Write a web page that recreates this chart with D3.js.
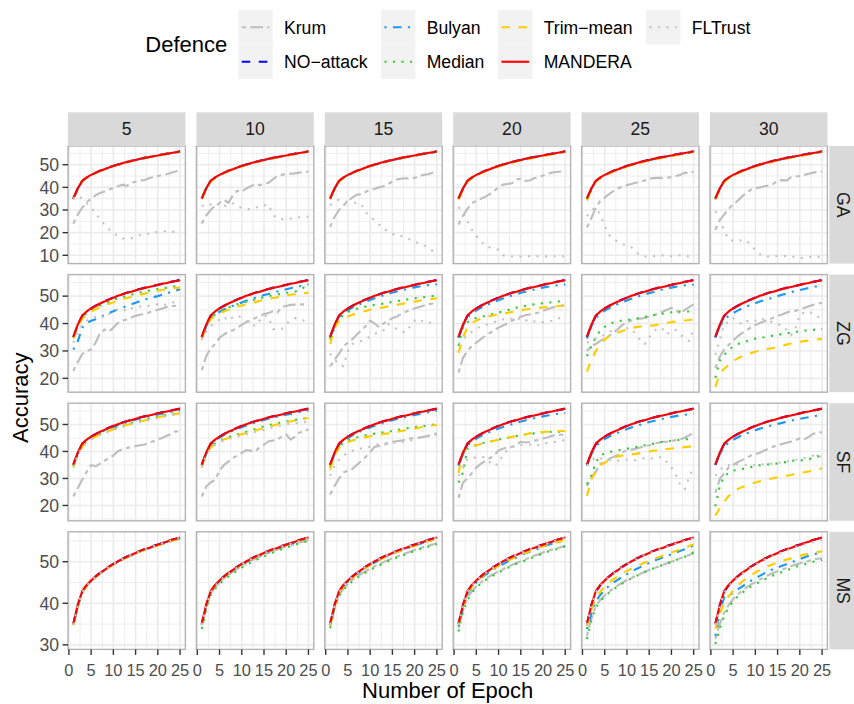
<!DOCTYPE html>
<html><head><meta charset="utf-8">
<script src="https://cdn.jsdelivr.net/npm/d3@7"></script>
<style>body{margin:0;background:#fff}text{font-family:"Liberation Sans",Arial,sans-serif}</style>
</head><body><svg id="c" width="854" height="704"></svg>
<script>
// ---------- categories ----------
const epochs = [1,2,3,4,5,6,7,8,9,10,11,12,13,14,15,16,17,18,19,20,21,22,23,24,25];
const attacks = ["GA","ZG","SF","MS"];
const attackerCounts = ["5","10","15","20","25","30"];
const defences = ["Krum","NO−attack","Bulyan","Median","Trim−mean","MANDERA","FLTrust"];
const xTicks = [0,5,10,15,20,25];
const yTicksByAttack = [[10,20,30,40,50],[20,30,40,50],[20,30,40,50],[30,40,50]];

// ---------- values (accuracy per epoch) ----------
const noAttack = [35.0,39.5,42.8,44.3,45.5,46.5,47.3,48.1,48.8,49.5,50.1,50.7,51.2,51.7,52.2,52.6,53.0,53.4,53.8,54.1,54.5,54.9,55.2,55.5,55.9];
const mandera  = [35.1,39.6,42.9,44.4,45.5,46.4,47.3,48.0,48.8,49.4,50.1,50.6,51.2,51.6,52.1,52.6,53.0,53.3,53.7,54.1,54.5,54.8,55.2,55.5,55.8];

const gaKrum = [
[24,28,31,33.5,35,36.5,37.5,38.2,39,39.8,40.5,41.2,40.6,42,42.5,43,43.2,44,44.5,45,45.5,45.8,46.5,47,47.5],
[24,27.5,30,32,33,34.5,33.2,36.5,38.5,38,39.5,40.5,41.5,41,41.5,42,43.5,45,45.5,46,46,46.2,46.5,46.8,47.0],
[22.5,27,30,32,34,35.5,36.8,37,38,39,39.3,40,40.5,41.5,42.5,43.5,43.8,44,43.8,44.2,45,45.5,45.8,46.5,47],
[23.6,27.5,30.5,33,34,35,35.8,37,38.5,40,41.2,41.5,41.8,43.5,43.8,42.8,43,44,44.5,45.2,46,46.5,46.8,47,46.8],
[22.3,26.5,31,34,35.5,37,38.4,39.5,40.5,41,41.5,42,42.5,43,43.8,44.1,44.2,44.2,44.3,44.5,45,45.5,46.5,46.2,47],
[21.3,25.5,28,30.5,32.5,34,36,37.5,39,39.5,40,40.5,40.8,41.5,43,43.2,43,44.4,44.8,45,45.5,46,46.5,46.8,47]];
const gaBulyan = [
[34.9,39.4,42.7,44.2,45.4,46.4,47.2,48.0,48.7,49.4,50.0,50.6,51.1,51.6,52.1,52.5,52.9,53.3,53.7,54.0,54.4,54.8,55.1,55.4,55.8],
[34.9,39.4,42.7,44.2,45.4,46.4,47.2,48.0,48.7,49.4,50.0,50.6,51.1,51.6,52.1,52.5,52.9,53.3,53.7,54.0,54.4,54.8,55.1,55.4,55.8],
[34.8,39.3,42.6,44.1,45.3,46.3,47.1,47.9,48.6,49.3,49.9,50.5,51.0,51.5,52.0,52.4,52.8,53.2,53.6,53.9,54.3,54.7,55.0,55.3,55.7],
[34.9,39.4,42.7,44.2,45.4,46.4,47.2,48.0,48.7,49.4,50.0,50.6,51.1,51.6,52.1,52.5,52.9,53.3,53.7,54.0,54.4,54.8,55.1,55.4,55.8],
[34.8,39.3,42.6,44.1,45.3,46.3,47.1,47.9,48.6,49.3,49.9,50.5,51.0,51.5,52.0,52.4,52.8,53.2,53.6,53.9,54.3,54.7,55.0,55.3,55.7],
[34.8,39.3,42.6,44.1,45.3,46.3,47.1,47.9,48.6,49.3,49.9,50.5,51.0,51.5,52.0,52.4,52.8,53.2,53.6,53.9,54.3,54.7,55.0,55.3,55.7]];
const gaMedian = [
[34.8,39.3,42.6,44.1,45.3,46.3,47.1,47.9,48.6,49.3,49.9,50.5,51.0,51.5,52.0,52.4,52.8,53.2,53.6,53.9,54.3,54.7,55.0,55.3,55.7],
[34.9,39.4,42.7,44.2,45.4,46.4,47.2,48.0,48.7,49.4,50.0,50.6,51.1,51.6,52.1,52.5,52.9,53.3,53.7,54.0,54.4,54.8,55.1,55.4,55.8],
[34.8,39.3,42.6,44.1,45.3,46.3,47.1,47.9,48.6,49.3,49.9,50.5,51.0,51.5,52.0,52.4,52.8,53.2,53.6,53.9,54.3,54.7,55.0,55.3,55.7],
[34.8,39.3,42.6,44.1,45.3,46.3,47.1,47.9,48.6,49.3,49.9,50.5,51.0,51.5,52.0,52.4,52.8,53.2,53.6,53.9,54.3,54.7,55.0,55.3,55.7],
[34.3,39.2,42.5,44.0,45.2,46.2,47.0,47.8,48.5,49.2,49.8,50.4,50.9,51.4,51.9,52.3,52.7,53.1,53.5,53.8,54.2,54.6,54.9,55.2,55.6],
[34.8,39.3,42.6,44.1,45.3,46.3,47.1,47.9,48.6,49.3,49.9,50.5,51.0,51.5,52.0,52.4,52.8,53.2,53.6,53.9,54.3,54.7,55.0,55.3,55.7]];
const gaTrim = [
[34.9,39.4,42.7,44.2,45.4,46.4,47.2,48.0,48.7,49.4,50.0,50.6,51.1,51.6,52.1,52.5,52.9,53.3,53.7,54.0,54.4,54.8,55.1,55.4,55.8],
[34.8,39.3,42.6,44.1,45.3,46.3,47.1,47.9,48.6,49.3,49.9,50.5,51.0,51.5,52.0,52.4,52.8,53.2,53.6,53.9,54.3,54.7,55.0,55.3,55.7],
[34.9,39.4,42.7,44.2,45.4,46.4,47.2,48.0,48.7,49.4,50.0,50.6,51.1,51.6,52.1,52.5,52.9,53.3,53.7,54.0,54.4,54.8,55.1,55.4,55.8],
[34.6,39.2,42.5,44.0,45.2,46.2,47.0,47.8,48.5,49.2,49.8,50.4,50.9,51.4,51.9,52.3,52.7,53.1,53.5,53.8,54.2,54.6,54.9,55.2,55.6],
[34.4,39.2,42.5,44.0,45.2,46.2,47.0,47.8,48.5,49.2,49.8,50.4,50.9,51.4,51.9,52.3,52.7,53.1,53.5,53.8,54.2,54.6,54.9,55.2,55.6],
[34.6,39.2,42.5,44.0,45.2,46.2,47.0,47.8,48.5,49.2,49.8,50.4,50.9,51.4,51.9,52.3,52.7,53.1,53.5,53.8,54.2,54.6,54.9,55.2,55.6]];
const gaFLTrust = [
[35,36.5,35,33,31,28.5,26,23.5,21.5,20,18.5,17.5,17.3,17.5,18.5,19,19.5,19.5,19.8,20.5,20.5,20.8,20.5,20.3,20.0],
[32,31.5,32.5,31.5,33,31.8,32,33,31.5,31,30.5,30.2,31,31.5,32,32.5,28,26.2,26,26,26.2,26.5,26.8,27,27],
[32.2,33.5,34.5,34,33.5,33.5,33,32.5,29,27,25.5,23.6,22,20.5,19.5,18.5,18.5,17.5,17,16,15.3,14.5,13.5,12,11],
[31.3,29,25,21.3,18.5,16.5,14,13.5,13,12.4,10,9.5,9.5,9.6,9.5,9.5,9.6,9.5,9.6,9.6,9.5,9.6,9.6,9.5,9.7],
[27.3,30,31,28,23,19,17,16,15,14,13.6,11.5,10,9.5,9.5,9.6,9.8,10,9.7,9.6,9.8,10,9.8,9.5,8.7],
[29.5,26,21,16.8,16.5,16.6,16.6,16.6,14.5,12.3,10.5,9.4,9.5,9.8,9.6,9.5,9.8,9.4,9.2,8.7,9.0,9.2,9.4,9.3,9.4]];

const zgKrum = [
[22.7,26,28.8,30,30.5,33,36.5,37.8,37,38.5,40.2,41,41.5,42.2,42.8,43.2,43.5,44,44.5,45,45.5,46,46.3,46.5,47],
[23,28,31,32.5,34.8,36,37,37.5,38.5,39.5,40.5,41,42,42.5,43.5,43.8,44.5,44,46,46.4,46.8,46.9,47,47,46.5],
[24.4,26.8,29,31.8,33,34.3,36,37.5,39,41.1,40,38.7,40,41,42,42.5,43.5,44.3,44.9,45.5,46,46.5,47,47.3,47.7],
[22.1,27.5,30,31.9,33,34.3,35.5,36.5,37.5,38.5,39.3,40,41,41.8,42.5,43,43.3,43.6,44,44.6,45.2,45.8,46.1,46.5,47],
[30,31.8,32.5,33.7,34.5,35.5,36.8,38,39.5,40.5,41.1,41.5,41.8,42,42.5,43,43.6,44.3,45,45.7,45,43.6,45,46,47],
[23.7,27.9,30.5,32.2,33.8,35.3,36.5,37.5,38.6,39.5,40.2,40.8,41.5,42.1,42.8,43.3,44,44.5,44.6,45.2,45.7,46.3,46.8,47.2,47.6]];
const zgBulyan = [
[30.5,33.5,38.5,40.2,41.0,41.6,42.3,43.0,43.8,44.5,45.2,45.8,46.4,47,47.6,48.2,48.7,49.2,49.6,50,50.5,51,51.5,52,52.5],
[34.5,39,42,43.3,44.3,45.1,45.8,46.5,47.1,47.7,48.3,48.9,49.4,49.9,50.4,50.8,51.3,51.7,52.1,52.5,52.9,53.3,53.6,54,54.3],
[34.8,39.3,42.4,43.8,44.9,45.8,46.6,47.3,48,48.6,49.2,49.8,50.3,50.8,51.3,51.7,52.1,52.5,52.9,53.2,53.5,53.8,54,54.2,54.3],
[34.8,39.2,42.3,43.7,44.8,45.7,46.5,47.2,47.9,48.5,49.1,49.7,50.2,50.7,51.2,51.6,52,52.4,52.8,53.1,53.4,53.7,53.9,54.1,54.2],
[34.6,39,42.1,43.6,44.7,45.6,46.4,47.1,47.8,48.4,49,49.6,50.1,50.6,51.1,51.5,52,52.4,52.8,53.1,53.4,53.7,53.9,54.1,54.2],
[34.9,39,41.5,42.8,43.8,44.7,45.5,46.2,46.8,47.4,48,48.5,49,49.5,50,50.5,50.9,51.4,51.8,52.2,52.6,53,53.3,53.7,54]];
const zgMedian = [
[35,39.5,42.3,43.8,45,45.8,46.6,47.3,48,48.6,49.2,49.6,50.1,50.5,51,51.3,51.7,52,52.3,52.6,52.9,53.1,53.4,53.6,53.8],
[34.8,39.2,42,43.3,44.3,45.1,45.8,46.4,47,47.5,48,48.4,48.8,49.2,49.6,50,50.3,50.6,50.9,51.2,51.5,51.7,52.2,53.2,52.5],
[34.1,38.5,41.5,43.3,44.2,44.9,45.4,45.8,46.2,46.5,46.8,47,47.3,47.6,47.9,48.2,48.4,48.7,49,49.2,49.4,49.6,49.8,50,50.2],
[31.8,38.7,40.5,41.5,42,42.4,42.8,43.2,43.6,44,44.4,44.8,45.5,45.8,46.1,46.4,46.7,47,47.2,47.4,47.6,47.8,48,48.1,48.2],
[28.1,31.8,35,37.5,38.8,39.9,40.4,40.8,41.2,41.4,41.5,41.8,42.1,42.4,42.8,43.1,43.4,43.6,43.9,44.1,44.3,44.4,44.4,44.4,44.5],
[20.2,26.4,28.5,30.5,31.5,32.5,33,33.5,34,34.5,34.8,35,35.3,35.6,35.8,36.2,36.5,36.6,36.9,37.2,37.4,37.5,37.7,37.9,38]];
const zgTrim = [
[34.5,39,41.8,43.2,44.3,45.2,46,46.6,47.2,47.8,48.3,48.8,49.3,49.7,50.1,50.5,50.9,51.3,51.6,52,52.3,52.5,52.8,53,53.1],
[34.5,38.8,41.5,42.8,43.7,44.4,45,45.6,46.1,46.6,47,47.4,47.8,48.2,48.6,49,49.3,49.6,49.9,50.2,50.5,50.7,50.9,51.1,51.2],
[32.5,38.5,40.8,41.8,42.6,43.2,43.7,44.2,44.6,45,45.3,45.6,45.9,46.2,46.5,46.8,47.1,47.4,47.7,48,48.3,48.6,48.8,49,49.2],
[29.3,34.9,38.5,40.2,41.1,41.8,42.3,42.7,43,43.3,43.6,43.9,44.2,44.5,44.8,45.1,45.3,45.5,45.7,45.9,46,46.2,46.3,46.4,46.5],
[22.5,26.8,30,32.5,34.2,35.4,36.2,36.8,37.3,37.8,38.3,38.7,38.9,39.1,39.2,39.3,39.6,39.9,40.2,40.5,40.7,40.9,41.1,41.3,41.5],
[16.9,21.8,23.5,24.9,26.2,27.3,28,28.7,29.2,29.7,30.1,30.5,30.8,31.1,31.5,31.9,32.3,32.7,33,33.3,33.6,33.8,34,34.2,34.4]];
const zgFLTrust = [
[33,37,39.5,41,42,42.5,43,42,43.5,44.5,45,45.5,44.5,45.5,46,46.2,46,46.5,46.8,47,46.5,47,47.5,48,47.5],
[34,37,39,40.5,41.5,42.5,41,42.3,43,42,41,40,39,41,43,42.5,38,37.8,38,40,41,42,41.5,41,39.5],
[29,27,25,24.4,30,32.5,33,33.6,34,35.5,36.2,36.8,37.5,39.9,39,38,37,36.7,39,41,41.8,40.5,40.6,40,39.7],
[32.5,34.5,35.5,37,38,39,39.3,40,40.5,41,41.5,41.5,41.8,42.5,41,41.3,40.5,40.8,40.5,40.5,40.8,41,41.8,42,42.6],
[33,34,34.5,35,36,37,37.6,38,38.5,38.3,38.2,36,34,32.5,35,37,38.5,38,36,37.5,37.6,36,34.5,33.6,38.2],
[28.6,34,39.9,40.5,42,41,39.7,41,40.5,41,42,41.5,41,40.5,40,39,37.8,35.7,38,43.3,44,44.5,43.5,42.5,42]];

const sfKrum = [
[23.3,26.5,29.5,32.5,35,34.5,35.5,36.5,37.6,38.5,40.1,40.8,41.3,41.6,42,42.3,42.6,43,43.8,44.5,45,45.8,46.5,47.5,47.3],
[23.3,27,28.5,29.5,33,35,36.2,37.6,38.5,39.5,40.5,40.3,40.1,41.5,42.5,43.8,44,44.4,45.5,46.3,44.4,45.5,47,47.5,48.2],
[24.1,27.2,30,32.2,33,33.5,35,36.5,38,39.8,41.7,42,42.3,43,43.6,43.8,44,44.4,44.8,45,45.2,45.4,45.8,46.3,46.7],
[22.8,28.5,30,32,34,35.4,36.5,37.5,38.5,40.4,41,41.5,41.7,42.5,43.6,43.3,43.5,44,44.2,44.8,45.2,45.8,46.1,46.2,46.3],
[27.2,30.4,32.5,35.4,36,37.3,38,38.8,39.8,40.3,40.7,41,41.5,42,42.3,42.8,43.2,43.6,43.6,43.9,44.2,44.5,45.1,46,47.1],
[24.7,29.8,32,34.1,35,36,36.8,37.5,38.5,39,39.5,40.4,41,41.8,42.3,42.8,43.2,43.6,44.2,44.8,44.5,45.4,46.5,47.3,47]];
const sfBulyan = [
[35,39.3,42.5,44,45.2,46.2,47,47.8,48.5,49.1,49.7,50.3,50.8,51.3,51.8,52.2,52.6,53,53.4,53.7,54,54.4,54.7,55,55.3],
[34.8,39.2,42.4,43.9,45.1,46.1,46.9,47.7,48.4,49,49.6,50.2,50.7,51.2,51.7,52.1,52.5,52.9,53.3,53.6,53.9,54.3,54.6,54.9,55.2],
[34.8,39.2,42.4,43.9,45,46,46.8,47.6,48.3,48.9,49.5,50.1,50.6,51.1,51.6,52,52.4,52.8,53.2,53.5,53.8,54.2,54.5,54.8,55.1],
[34.7,39,42.2,43.7,44.8,45.7,46.5,47.2,47.9,48.5,49.1,49.6,50.1,50.6,51.1,51.5,51.9,52.3,52.7,53,53.3,53.6,53.9,54.1,54.3],
[34.7,39,42,43.5,44.6,45.5,46.3,47,47.7,48.3,48.9,49.4,49.9,50.4,50.9,51.3,51.7,52.1,52.5,52.8,53.1,53.4,53.6,53.8,54],
[35,39,41.8,43.2,44.3,45.2,46,46.7,47.3,47.9,48.4,48.9,49.4,49.8,50.2,50.6,51,51.4,51.8,52.1,52.4,52.7,53,53.3,53.6]];
const sfMedian = [
[34.5,39.2,42,43.6,44.8,45.7,46.5,47.2,47.8,48.4,49,49.5,50,50.5,50.9,51.3,51.7,52.1,52.5,52.8,53.2,53.5,53.8,54.1,54.4],
[34.5,39,41.8,43,44,44.7,45.3,45.8,46.3,46.8,47.3,47.8,48.3,48.8,49.3,49.7,50.1,50.5,50.8,51.1,51.4,51.7,52,52.2,52.5],
[34.1,39,42,43.2,44,44.6,45.2,45.7,46,46.3,46.6,46.9,47.1,47.3,47.6,47.9,48.2,48.5,48.8,49,49.2,49.4,49.7,49.9,50.1],
[28.5,32.2,41,41.8,42.4,42.9,43.3,43.7,44.1,44.4,44.8,45.1,45.4,45.7,46,46.3,46.5,46.7,46.9,47.1,47.2,47.3,47.3,47.3,47.3],
[27.8,31,36,38.5,39.3,39.8,40.1,40.4,40.7,41,41.3,41.6,41.9,42.3,42.6,42.9,43.2,43.6,43.8,44,44.2,44.3,44.5,44.6,44.8],
[19.7,27.2,31,32,32.9,33.2,33.5,33.8,34.2,34.7,34.9,35.1,35.2,35.3,35.6,35.8,36.2,36.6,36.6,36.7,36.8,37.2,37.5,38.3,36.8]];
const sfTrim = [
[34.5,39,41.8,43.4,44.6,45.5,46.3,47,47.6,48.2,48.7,49.3,49.8,50.3,50.7,51.1,51.5,51.9,52.3,52.6,53,53.3,53.6,53.9,54.2],
[34.5,38.8,41.5,42.8,43.7,44.4,45,45.5,46,46.4,46.8,47.3,47.7,48.2,48.7,49.2,49.6,50,50.4,50.8,51.2,51.5,51.8,52.1,52.4],
[33.3,38.5,41.5,42.7,43.5,44.1,44.6,45,45.3,45.6,45.9,46.2,46.5,46.7,47,47.3,47.6,47.9,48.2,48.5,48.8,49.1,49.3,49.6,49.8],
[32,39.8,41.2,42,42.3,42.8,43.2,43.6,44,44.4,44.8,45.1,45.4,45.7,46,46.3,46.7,46.9,47.1,47.2,47.3,47.4,47.5,47.6,47.6],
[23.5,29.8,32.5,35,35.8,36.8,37.9,38.2,38.5,38.7,38.9,39.1,39.4,39.7,40,40.3,40.5,40.7,40.9,41.1,41.2,41.4,41.6,41.8,42],
[16.3,19,21.5,23.5,25,26,26.8,27.4,28,28.5,29,29.4,29.8,30.1,30.4,30.7,31,31.3,31.7,32,32.3,32.6,32.9,33.3,33.8]];
const sfFLTrust = [
[34,38.8,41.7,43.2,44.4,45.3,46.1,46.8,47.4,48,48.5,49.1,49.6,50.1,50.5,50.9,51.3,51.7,52.1,52.4,52.8,53.1,53.4,53.7,54],
[34,38.5,41,42.5,43.5,44,44.6,45,45.5,46,46.3,46.8,47.2,47.6,48,48.5,49,49.3,49.7,50,50.3,50.5,50.6,50.8,51],
[31,34.5,37,38.5,39.5,40.3,41,41.1,41.3,41.8,42.3,42.8,43,43.1,43.2,43.3,43.4,43.6,44,44.5,45,45.4,45.6,45.8,46],
[31,34,37.3,37.5,37.8,38,37.8,36,34.7,35.5,39.1,40.5,41.5,42.3,42.5,42.3,42.5,42.8,42.3,43,43.2,43.4,43.6,44,44.2],
[34.7,36.5,37.9,37.5,37,36.8,36.6,36.6,36.8,37,36.6,36.8,37.2,37.5,37.2,37.6,37.8,37.9,36,34,31.4,27.5,26,30.5,34.5],
[31,33,34.7,35,35.4,35.2,35,35,34.9,35,35.1,35.3,35.4,35.5,35.7,36,36.3,36.6,36.8,37.3,37.5,38,38.5,39.1,37.3]];

const msKrum = [
[34.8,39.3,42.6,44.1,45.3,46.3,47.1,47.9,48.6,49.3,49.9,50.5,51,51.5,52,52.4,52.8,53.2,53.6,53.9,54.2,54.6,54.9,55.2,55.5],
[34.7,39.1,42.3,43.8,45,46,46.8,47.6,48.3,49,49.6,50.2,50.7,51.2,51.7,52.1,52.5,52.9,53.3,53.6,53.9,54.3,54.6,54.9,55.2],
[34.5,39,42,43.5,44.7,45.6,46.4,47.1,47.7,48.3,48.9,49.4,49.9,50.4,50.8,51.2,51.6,52,52.4,52.8,53.2,53.5,53.8,54.1,54.5],
[34,38.5,41.3,42.9,44.1,45,45.8,46.5,47.1,47.7,48.2,48.7,49.2,49.7,50.1,50.5,51,51.4,51.8,52.2,52.6,52.9,53.2,53.5,53.8],
[32.2,36.3,39.3,40.8,41.9,42.8,43.6,44.3,45,45.6,46.1,46.6,47.1,47.6,48,48.4,48.8,49.2,49.6,50,50.4,50.8,51.2,51.6,52],
[31.4,35,37.8,39.6,41,42.1,43,43.8,44.5,45.1,45.7,46.3,46.8,47.3,47.7,48.1,48.5,48.9,49.3,49.6,49.9,50.2,50.5,50.7,50.8]];
const msBulyan = [
[34.9,39.4,42.7,44.2,45.4,46.4,47.2,48.0,48.7,49.4,50.0,50.6,51.1,51.6,52.1,52.5,52.9,53.3,53.7,54.0,54.4,54.8,55.1,55.4,55.8],
[34.8,39.3,42.6,44.1,45.3,46.3,47.1,47.9,48.6,49.3,49.9,50.5,51.0,51.5,52.0,52.4,52.8,53.2,53.6,53.9,54.3,54.7,55.0,55.3,55.7],
[34.7,39.2,42.5,44.0,45.2,46.2,47.0,47.8,48.5,49.2,49.8,50.4,50.9,51.4,51.9,52.3,52.7,53.1,53.5,53.8,54.2,54.6,54.9,55.2,55.5],
[34.5,39,42.3,43.8,45,46,46.8,47.5,48.2,48.8,49.4,50,50.5,51,51.5,52,52.4,52.8,53.2,53.6,54,54.3,54.6,54.9,55.2],
[33.8,37.5,40.5,42,43.2,44.2,45,45.7,46.4,47,47.6,48.2,48.7,49.2,49.7,50.2,50.6,51,51.4,51.8,52.2,52.6,53,53.4,53.9],
[32.2,38,41.5,42,42.5,43.3,44,44.7,45.4,46,46.6,47.2,47.7,48.2,48.6,49,49.4,49.8,50.2,50.6,51,51.4,51.7,52,52.4]];
const msMedian = [
[34.9,39.4,42.7,44.2,45.4,46.4,47.2,48.0,48.7,49.4,50.0,50.6,51.1,51.6,52.1,52.5,52.9,53.3,53.7,54.0,54.3,54.7,55.0,55.3,55.6],
[33.8,38.5,41.9,43.5,44.6,45.6,46.4,47.2,47.9,48.6,49.2,49.8,50.3,50.8,51.3,51.7,52.2,52.6,53,53.4,53.7,54.1,54.4,54.7,55],
[34,38.8,41.8,43.3,44.4,45.3,46.1,46.8,47.4,48,48.6,49.1,49.6,50.1,50.5,51,51.4,51.8,52.2,52.6,53,53.3,53.6,53.9,54.2],
[33.2,38,40.8,42.5,43.8,44.7,45.5,46.2,46.8,47.4,48,48.5,49,49.5,49.9,50.3,50.8,51.2,51.6,52,52.4,52.7,53,53.4,53.7],
[31.4,36,39,40.5,41.7,42.6,43.4,44.1,44.8,45.4,46,46.5,47,47.5,48,48.4,48.8,49.2,49.6,50,50.4,50.8,51.2,51.6,52.3],
[30.2,34,37,39,40.5,41.6,42.5,43.3,44,44.6,45.2,45.7,46.2,46.7,47.1,47.5,47.9,48.3,48.7,49.1,49.4,49.7,50,50.2,50.4]];
const msTrim = [
[34.8,39.3,42.6,44.1,45.3,46.3,47.1,47.9,48.6,49.3,49.9,50.5,51.0,51.5,52.0,52.4,52.8,53.2,53.6,53.9,54.3,54.7,55.0,55.3,55.7],
[34.9,39.4,42.7,44.2,45.4,46.4,47.2,48.0,48.7,49.4,50.0,50.6,51.1,51.6,52.1,52.5,52.9,53.3,53.7,54.0,54.4,54.8,55.1,55.4,55.8],
[34.6,39.2,42.5,44.0,45.2,46.2,47.0,47.8,48.5,49.2,49.8,50.4,50.9,51.4,51.9,52.3,52.7,53.1,53.5,53.8,54.2,54.6,54.9,55.2,55.6],
[34.8,39.2,42.5,44,45.2,46.2,47,47.7,48.4,49,49.6,50.2,50.7,51.2,51.7,52.1,52.5,52.9,53.3,53.7,54.1,54.4,54.7,55,55.3],
[34.5,38.5,41.3,42.8,44,45,45.8,46.5,47.2,47.8,48.3,48.8,49.3,49.8,50.2,50.6,51,51.4,51.8,52.2,52.6,53,53.4,53.8,54.2],
[33.8,37.5,40,41.7,43,44.2,45.2,46,46.7,47.4,48,48.5,49,49.4,49.8,50.2,50.5,50.8,51.1,51.4,51.7,51.9,52.1,52.3,52.5]];
const msFLTrust = [
[34.9,39.4,42.7,44.2,45.4,46.4,47.2,48.0,48.7,49.4,50.0,50.6,51.1,51.6,52.1,52.5,52.9,53.3,53.7,54.0,54.4,54.8,55.1,55.4,55.8],
[34.8,39.3,42.6,44.1,45.3,46.3,47.1,47.9,48.6,49.3,49.9,50.5,51.0,51.5,52.0,52.4,52.8,53.2,53.6,53.9,54.3,54.7,55.0,55.3,55.7],
[34.9,39.4,42.7,44.2,45.4,46.4,47.2,48.0,48.7,49.4,50.0,50.6,51.1,51.6,52.1,52.5,52.9,53.3,53.7,54.0,54.4,54.8,55.1,55.4,55.8],
[34.9,39.4,42.7,44.2,45.4,46.4,47.2,48.0,48.7,49.4,50.0,50.6,51.1,51.6,52.1,52.5,52.9,53.3,53.7,54.0,54.4,54.8,55.1,55.4,55.8],
[34.8,39.3,42.6,44.1,45.3,46.3,47.1,47.9,48.6,49.3,49.9,50.5,51.0,51.5,52.0,52.4,52.8,53.2,53.6,53.9,54.3,54.7,55.0,55.3,55.7],
[34.8,39.3,42.5,44,45.2,46.2,47,47.8,48.5,49.2,49.8,50.4,50.9,51.4,51.9,52.3,52.7,53.1,53.5,53.8,54.1,54.4,54.7,55,55.3]];

// ---------- lookup table built from the arrays ----------
const byAttack = [
  {"Krum":gaKrum,"Bulyan":gaBulyan,"Median":gaMedian,"Trim−mean":gaTrim,"FLTrust":gaFLTrust},
  {"Krum":zgKrum,"Bulyan":zgBulyan,"Median":zgMedian,"Trim−mean":zgTrim,"FLTrust":zgFLTrust},
  {"Krum":sfKrum,"Bulyan":sfBulyan,"Median":sfMedian,"Trim−mean":sfTrim,"FLTrust":sfFLTrust},
  {"Krum":msKrum,"Bulyan":msBulyan,"Median":msMedian,"Trim−mean":msTrim,"FLTrust":msFLTrust}];
function valuesFor(r, c, def){
  if (def === "NO−attack") return noAttack;
  if (def === "MANDERA") return mandera;
  return byAttack[r][def][c];
}

// ---------- styles ----------
const u = 2.13;
const styleOf = {
  "Krum":      {color:"#BEBEBE", dash:[2*u,2*u,6*u,2*u].join(",")},
  "NO−attack": {color:"#0000FF", dash:[4*u,4*u].join(",")},
  "Bulyan":    {color:"#1C97F2", dash:[u,3*u,4*u,3*u].join(",")},
  "Median":    {color:"#33CC33", dash:[u,3*u].join(",")},
  "Trim−mean": {color:"#FFCC00", dash:[4*u,4*u].join(",")},
  "MANDERA":   {color:"#FF0000", dash:null},
  "FLTrust":   {color:"#C4C4C4", dash:[u,3*u].join(",")}
};

// ---------- layout ----------
const svg = d3.select("#c");
svg.append("rect").attr("width",854).attr("height",704).attr("fill","#fff");
const px0 = 68, pw = 117.4, py0 = 146, ph = 117.6, gap = 11;
const stripTop = 112.3;
const tickCol = "#333333", labCol = "#4D4D4D";

const x = d3.scaleLinear().domain([-0.2, 26.2]).range([0, pw]);
const xMinor = [2.5,7.5,12.5,17.5,22.5];

const defs = svg.append("defs");

attacks.forEach((att, r) => {
  const all = [];
  attackerCounts.forEach((_, c) => defences.forEach(d => all.push(...valuesFor(r,c,d))));
  const [mn, mx] = d3.extent(all);
  const pad = (mx - mn) * 0.05;
  const y = d3.scaleLinear().domain([mn - pad, mx + pad]).range([ph, 0]);
  const majors = yTicksByAttack[r];
  const step = majors[1] - majors[0];
  const minors = [];
  for (let v = majors[0] - step/2; v <= mx + pad; v += step) if (v >= mn - pad) minors.push(v);

  const top = py0 + r * (ph + gap);

  attackerCounts.forEach((cnt, c) => {
    const left = px0 + c * (pw + gap);
    const g = svg.append("g").attr("transform", `translate(${left},${top})`);
    const cid = `clip${r}_${c}`;
    defs.append("clipPath").attr("id", cid).append("rect").attr("width", pw).attr("height", ph);
    g.append("rect").attr("width", pw).attr("height", ph).attr("fill", "#fff");
    g.selectAll(".gxm").data(xMinor).join("line").attr("x1", d=>x(d)).attr("x2", d=>x(d)).attr("y1",0).attr("y2",ph)
      .attr("stroke","#EBEBEB").attr("stroke-width",0.9);
    g.selectAll(".gym").data(minors).join("line").attr("y1", d=>y(d)).attr("y2", d=>y(d)).attr("x1",0).attr("x2",pw)
      .attr("stroke","#EBEBEB").attr("stroke-width",0.9);
    g.selectAll(".gx").data(xTicks).join("line").attr("x1", d=>x(d)).attr("x2", d=>x(d)).attr("y1",0).attr("y2",ph)
      .attr("stroke","#EBEBEB").attr("stroke-width",1.6);
    g.selectAll(".gy").data(majors).join("line").attr("y1", d=>y(d)).attr("y2", d=>y(d)).attr("x1",0).attr("x2",pw)
      .attr("stroke","#EBEBEB").attr("stroke-width",1.6);
    const lg = g.append("g").attr("clip-path", `url(#${cid})`);
    const line = d3.line().x(d => x(d[0])).y(d => y(d[1]));
    defences.forEach(def => {
      const vals = valuesFor(r, c, def);
      const st = styleOf[def];
      lg.append("path").datum(epochs.map((e,i) => [e, vals[i]]))
        .attr("d", line).attr("fill","none").attr("stroke", st.color).attr("stroke-width", u)
        .attr("stroke-dasharray", st.dash).attr("stroke-linecap","butt").attr("stroke-linejoin","round");
    });
    g.append("rect").attr("width", pw).attr("height", ph).attr("fill","none").attr("stroke","#B3B3B3").attr("stroke-width",1.4);

    if (r === 0) {
      svg.append("rect").attr("x", left).attr("y", stripTop).attr("width", pw).attr("height", py0 - stripTop).attr("fill","#D9D9D9");
      svg.append("text").attr("x", left + pw/2).attr("y", (stripTop + py0)/2).attr("dy","0.36em")
        .attr("text-anchor","middle").attr("font-size",17.6).attr("fill","#1A1A1A").text(cnt);
    }
    if (c === 0) {
      const ya = svg.append("g").attr("transform", `translate(${left},${top})`);
      ya.selectAll("line").data(majors).join("line").attr("x1",-5.5).attr("x2",0).attr("y1",d=>y(d)).attr("y2",d=>y(d))
        .attr("stroke",tickCol).attr("stroke-width",1.4);
      ya.selectAll("text").data(majors).join("text").attr("x",-9).attr("y",d=>y(d)).attr("dy","0.36em")
        .attr("text-anchor","end").attr("font-size",17.6).attr("fill",labCol).text(d=>d);
    }
    if (r === attacks.length - 1) {
      const xa = svg.append("g").attr("transform", `translate(${left},${top + ph})`);
      xa.selectAll("line").data(xTicks).join("line").attr("x1",d=>x(d)).attr("x2",d=>x(d)).attr("y1",0).attr("y2",5.5)
        .attr("stroke",tickCol).attr("stroke-width",1.4);
      xa.selectAll("text").data(xTicks).join("text").attr("x",d=>x(d)).attr("y",15).attr("dy","0.72em")
        .attr("text-anchor","middle").attr("font-size",16.4).attr("fill",labCol).text(d=>d);
    }
  });
  const sx = px0 + 6*pw + 5*gap + 2;
  svg.append("rect").attr("x", sx).attr("y", top).attr("width", 34).attr("height", ph).attr("fill","#D9D9D9");
  svg.append("text").attr("transform", `translate(${843},${top + ph/2}) rotate(90)`).attr("dy","0.36em")
    .attr("text-anchor","middle").attr("font-size",17.6).attr("fill","#1A1A1A").text(att);
});

const panelsRight = px0 + 6*pw + 5*gap;
svg.append("text").attr("x", (px0 + panelsRight)/2).attr("y", 698).attr("text-anchor","middle")
  .attr("font-size",22).attr("fill","#000").text("Number of Epoch");
svg.append("text").attr("transform", `translate(20,${(py0 + py0 + 4*ph + 3*gap)/2}) rotate(-90)`).attr("dy","0.36em")
  .attr("text-anchor","middle").attr("font-size",22).attr("fill","#000").text("Accuracy");

const lg = svg.append("g");
lg.append("text").attr("x",145.3).attr("y",44.5).attr("dy","0.36em").attr("font-size",22).attr("fill","#000").text("Defence");
const keyW = 34.4, keyH = 34.5, keyTop = 10;
const keyCols = [238.3, 381, 498, 646];
defences.forEach((def, i) => {
  const col = Math.floor(i / 2), row = i % 2;
  const kx = keyCols[col], ky = keyTop + row * keyH;
  lg.append("rect").attr("x",kx).attr("y",ky).attr("width",keyW).attr("height",keyH).attr("fill","#F2F2F2");
  const st = styleOf[def];
  lg.append("line").attr("x1",kx + keyW*0.1).attr("x2",kx + keyW*0.9).attr("y1",ky+keyH/2).attr("y2",ky+keyH/2)
    .attr("stroke",st.color).attr("stroke-width",u).attr("stroke-dasharray",st.dash);
  lg.append("text").attr("x",kx + keyW + 11.3).attr("y",ky + keyH/2).attr("dy","0.36em")
    .attr("font-size",17.6).attr("fill","#000").text(def);
});
</script></body></html>
